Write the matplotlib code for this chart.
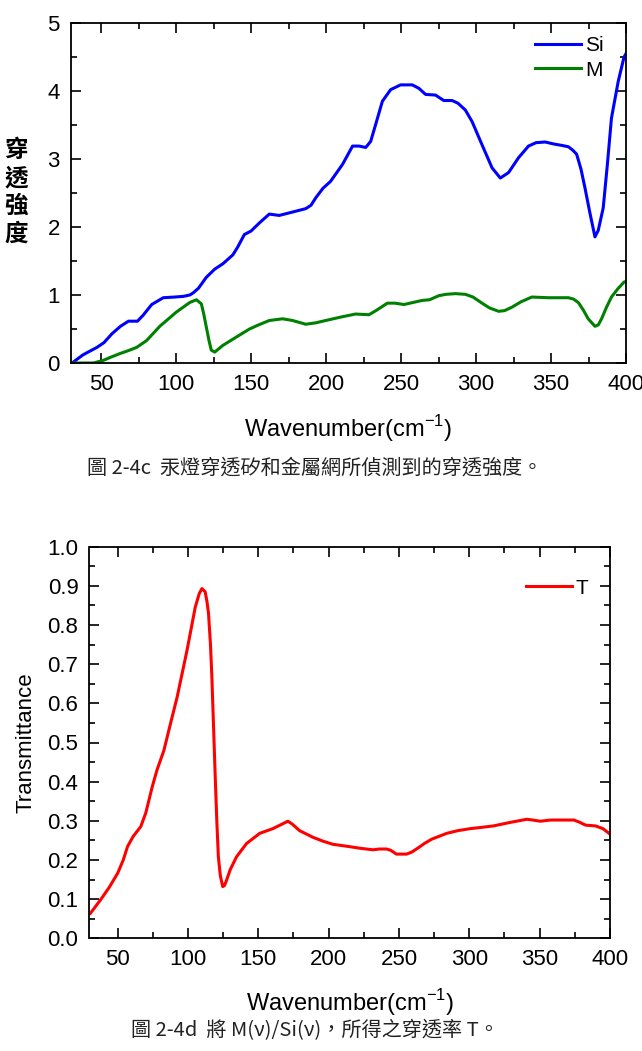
import matplotlib
matplotlib.use('Agg')
import matplotlib.pyplot as plt
from matplotlib.ticker import MultipleLocator

plt.rcParams['font.family'] = ['Liberation Sans', 'Noto Sans CJK TC', 'DejaVu Sans']

# Si (blue) and M (green) transmitted intensity
wn_si = [30.7, 38, 47.3, 52, 57.3, 63, 68.3, 74.3, 78, 83.8, 91.5, 99.2, 105, 109.2, 111.4, 115,
         120.2, 125.8, 131.3, 137.9, 141, 145.6, 150, 155.6, 162.2, 168.8, 177.7, 186.5, 190, 193.2,
         198, 203, 211, 217.7, 222.1, 226.5, 229.8, 233, 237.6, 243.1, 249.7, 257.5, 261.9, 266.4,
         273, 278.5, 284.1, 288, 292.9, 297.4, 304, 310.7, 316.2, 321.7, 328.4, 335, 340, 346.1,
         352, 357.2, 361.6, 364.5, 367.1, 370, 372.6, 376, 379.3, 381.5, 384.8, 387.5, 390.3,
         394.8, 398.7, 400]
si = [0.0, 0.12, 0.23, 0.3, 0.43, 0.54, 0.615, 0.615, 0.7, 0.86, 0.96, 0.97, 0.98, 1.0, 1.03, 1.1,
      1.26, 1.38, 1.46, 1.59, 1.7, 1.89, 1.94, 2.06, 2.19, 2.17, 2.22, 2.27, 2.32, 2.43,
      2.57, 2.67, 2.92, 3.19, 3.19, 3.17, 3.26, 3.5, 3.85, 4.02, 4.09, 4.09, 4.04, 3.95,
      3.94, 3.86, 3.86, 3.82, 3.72, 3.55, 3.21, 2.87, 2.72, 2.80, 3.02, 3.19, 3.24, 3.25,
      3.22, 3.2, 3.18, 3.13, 3.07, 2.85, 2.58, 2.2, 1.855, 1.95, 2.28, 2.9, 3.6,
      4.14, 4.5, 4.55]

wn_m = [30.7, 45, 51.7, 57, 62.8, 68, 73.8, 80.4, 89.2, 100.3, 109.2, 113.6, 116.9, 118.5, 120.2,
        122, 123.5, 125.8, 128, 131.3, 140.1, 149, 155, 162.2, 171.1, 177.7, 186.5, 193, 199.8,
        210.8, 219.7, 228.7, 234, 240.9, 246, 252, 258, 264.1, 269, 275.2, 280, 286.3, 292.9,
        298, 304, 309, 315.1, 319, 323.9, 330, 337.2, 348.2, 361.6, 365, 368.2, 371.5, 374.8,
        379.3, 381.5, 383.7, 387, 390.3, 394.5, 398.7, 400]
m = [0.0, 0.0, 0.04, 0.09, 0.14, 0.18, 0.23, 0.33, 0.54, 0.75, 0.89, 0.93, 0.87, 0.72, 0.53,
     0.33, 0.19, 0.16, 0.2, 0.26, 0.38, 0.50, 0.56, 0.625, 0.65, 0.625, 0.57, 0.59, 0.625,
     0.68, 0.72, 0.71, 0.78, 0.88, 0.88, 0.86, 0.89, 0.92, 0.93, 0.99, 1.01, 1.02, 1.01,
     0.97, 0.88, 0.81, 0.76, 0.77, 0.82, 0.9, 0.97, 0.96, 0.96, 0.94, 0.89, 0.78, 0.65,
     0.54, 0.56, 0.65, 0.82, 0.97, 1.09, 1.19, 1.2]

# transmittance T = M / Si (red)
wn_t = [30.7, 38.2, 44, 50, 54, 57, 61, 66.4, 70, 74.6, 78, 82.9, 87, 92.3, 99.3, 105.2, 108,
        109.9, 112.2, 113.5, 114.6, 116, 116.9, 118, 119.3, 120.5, 121.6, 123, 124.7, 126,
        127.5, 130, 134.5, 141.6, 151, 160.3, 166, 171, 174, 179.3, 188.8, 196, 203.1, 215,
        222.1, 231.6, 236, 241.1, 244, 248.2, 255.4, 259, 263.7, 268, 273.2, 283.9, 292,
        300.6, 308, 317.2, 329.1, 341, 345, 350.5, 357.6, 366, 374.3, 378, 382.6, 389.7,
        395, 400]
t = [0.064, 0.10, 0.13, 0.166, 0.2, 0.234, 0.26, 0.285, 0.32, 0.387, 0.43, 0.48, 0.54, 0.616,
     0.735, 0.846, 0.88, 0.893, 0.885, 0.86, 0.83, 0.75, 0.676, 0.56, 0.42, 0.3, 0.208, 0.16,
     0.132, 0.135, 0.149, 0.175, 0.208, 0.242, 0.268, 0.28, 0.29, 0.299, 0.292, 0.275, 0.258,
     0.248, 0.24, 0.234, 0.23, 0.226, 0.228, 0.228, 0.225, 0.215, 0.215, 0.22, 0.231, 0.242,
     0.253, 0.268, 0.275, 0.28, 0.283, 0.287, 0.296, 0.304, 0.302, 0.299, 0.302, 0.302,
     0.302, 0.297, 0.289, 0.287, 0.28, 0.266]

cjk = ['Noto Sans CJK TC', 'DejaVu Sans']

fig = plt.figure(figsize=(6.42, 10.51), dpi=100)
W, H = 642, 1051


def style(ax):
    for s in ax.spines.values():
        s.set_linewidth(1.3)
    ax.tick_params(which='both', direction='in', top=True, right=True, width=1.2)
    ax.tick_params(which='major', length=7, labelsize=16, pad=8)
    ax.tick_params(which='minor', length=4)


# ---- top chart ----
ax1 = fig.add_axes([71 / W, 1 - 363 / H, (626 - 71) / W, (363 - 23) / H])
ax1.plot(wn_si, si, color='#0000ff', lw=2.2, label='Si')
ax1.plot(wn_m, m, color='#008000', lw=2.2, label='M')
ax1.set_xlim(30, 400)
ax1.set_ylim(0, 5)
ax1.xaxis.set_major_locator(MultipleLocator(50))
ax1.xaxis.set_minor_locator(MultipleLocator(25))
ax1.yaxis.set_major_locator(MultipleLocator(1))
ax1.yaxis.set_minor_locator(MultipleLocator(0.5))
style(ax1)
ax1.set_xlabel('Wavenumber(cm$^{\\mathregular{-1}}$)', fontsize=17, labelpad=13)
ax1.legend(loc='upper right', bbox_to_anchor=(0.975, 0.985), frameon=False, fontsize=15,
           handlelength=2.2, handletextpad=0.2, labelspacing=0.25, borderaxespad=0)
fig.text(16 / W, 1 - 192 / H, '穿\n透\n強\n度', family=cjk, fontsize=17, fontweight='bold',
         ha='center', va='center', linespacing=1.2)

fig.text(315 / W, 1 - 468 / H, '圖 2-4c  汞燈穿透矽和金屬網所偵測到的穿透強度。',
         family=cjk, fontsize=14.5, ha='center', va='center', color='#222222')

# ---- bottom chart ----
ax2 = fig.add_axes([89.5 / W, 1 - 938.3 / H, (610 - 89.5) / W, (938.3 - 546.7) / H])
ax2.plot(wn_t, t, color='#ff0000', lw=2.2, label='T')
ax2.set_xlim(30, 400)
ax2.set_ylim(0, 1.0)
ax2.xaxis.set_major_locator(MultipleLocator(50))
ax2.xaxis.set_minor_locator(MultipleLocator(25))
ax2.yaxis.set_major_locator(MultipleLocator(0.1))
ax2.yaxis.set_minor_locator(MultipleLocator(0.05))
ax2.yaxis.set_major_formatter(matplotlib.ticker.FormatStrFormatter('%.1f'))
style(ax2)
ax2.set_xlabel('Wavenumber(cm$^{\\mathregular{-1}}$)', fontsize=17, labelpad=12)
ax2.set_ylabel('Transmittance', fontsize=16, labelpad=8)
ax2.legend(loc='upper right', bbox_to_anchor=(0.975, 0.94), frameon=False, fontsize=15,
           handlelength=2.2, handletextpad=0.2, borderaxespad=0)

fig.text(315 / W, 1 - 1031 / H, '圖 2-4d  將 M(ν)/Si(ν)，所得之穿透率 T。',
         family=cjk, fontsize=14.5, ha='center', va='center', color='#222222')

fig.savefig('out.png', dpi=100)
